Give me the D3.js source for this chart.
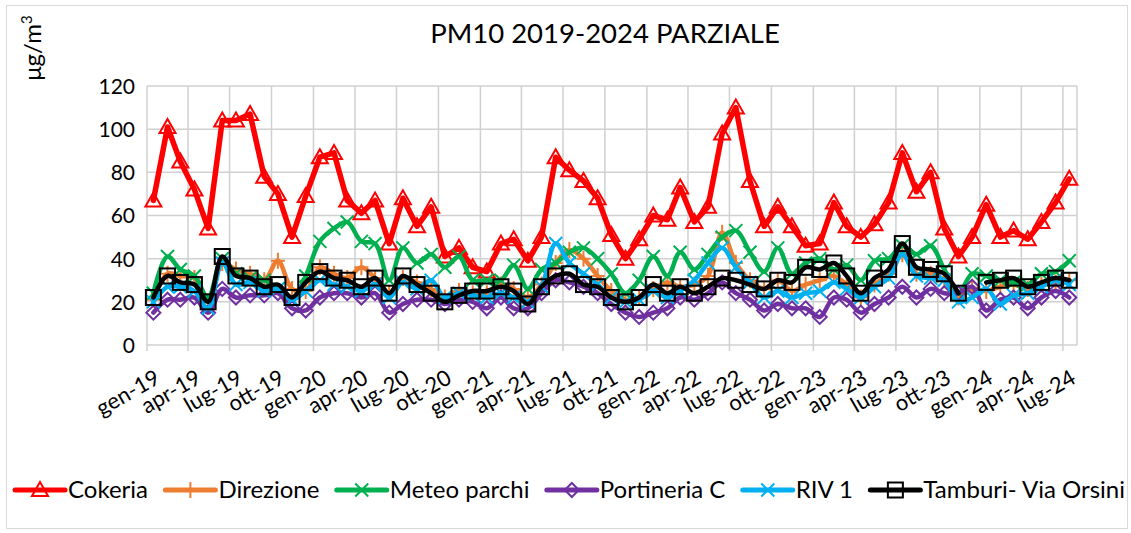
<!DOCTYPE html>
<html>
<head>
<meta charset="utf-8">
<script src="https://cdn.jsdelivr.net/npm/d3@7"></script>
<style>
  body { margin: 0; background: #fff; }
  text { font-family: Lato, "Open Sans", sans-serif; fill: #000; }
</style>
</head>
<body>
<div id="chart"></div>
<script>
// Data (monthly, gen-19 .. lug-24)
const firstYear = 2019;
const xTickLabels = ['gen-19','apr-19','lug-19','ott-19','gen-20','apr-20','lug-20','ott-20',
  'gen-21','apr-21','lug-21','ott-21','gen-22','apr-22','lug-22','ott-22',
  'gen-23','apr-23','lug-23','ott-23','gen-24','apr-24','lug-24'];
const yTicks = [0, 20, 40, 60, 80, 100, 120];

const cokeria = [67,101,85,72,54,104,104,107,78,70,50,69,87,89,67,61,67,47,68,55,64,41,45,36,34,
  47,49,39,50,87,81,76,68,51,40,49,60,58,73,57,64,98,110,76,55,64,55,46,47,66,55,50,56,66,89,71,80,
  54,41,50,65,50,53,49,57,66,77];
const direzione = [21,33,32,31,20,38,35,33,30,39,26,25,36,33,31,36,31,24,31,29,26,22,25,24,24,
  28,26,22,28,38,44,40,32,25,21,22,26,29,27,28,32,52,38,30,26,30,25,28,30,32,28,22,28,33,42,33,33,
  30,22,26,25,27,28,26,28,29,30];
const meteoParchi = [24,41,35,32,22,40,33,31,30,26,21,32,48,54,57,48,47,30,45,38,42,36,41,30,30,
  30,37,26,35,38,43,45,40,33,24,30,41,32,43,35,42,50,53,43,34,45,33,38,40,35,37,30,39,40,46,42,46,
  35,24,33,32,30,29,28,33,34,39];
const portineriaC = [15,21,21,22,15,26,22,23,23,24,17,16,22,24,24,22,24,15,19,21,21,19,21,20,17,
  22,17,17,24,30,29,27,24,19,15,13,15,17,22,21,24,29,24,21,16,19,17,17,13,22,21,15,19,22,27,22,26,
  24,24,27,16,21,22,17,22,25,22];
const riv1 = [20,27,27,25,17,38,28,29,25,26,21,25,30,28,27,25,28,22,29,26,30,22,24,23,22,
  24,22,20,27,47,38,33,28,22,20,21,25,22,25,30,38,45,36,29,22,25,22,24,25,29,26,22,27,31,42,32,31,
  30,20,22,26,19,23,24,27,30,28];
const tamburi = [22,32,29,28,20,41,32,31,27,28,22,29,34,31,30,27,31,24,32,28,24,20,23,25,25,
  27,25,19,27,32,33,28,27,22,20,22,28,24,27,24,27,31,30,28,26,30,29,36,35,38,32,24,31,35,47,36,35,
  33,24,null,29,30,31,27,29,31,30];

const seriesNames = ['Cokeria','Direzione','Meteo parchi','Portineria C','RIV 1','Tamburi- Via Orsini'];
const seriesColors = ['#ff0000','#ed7d31','#00b050','#7030a0','#00b0f0','#000000'];
const seriesMarkers = ['triangle','plus','x','diamond','x','square'];
const seriesValues = [cokeria, direzione, meteoParchi, portineriaC, riv1, tamburi];

const W = 1131, H = 533;
const margin = { left: 147, right: 1077, top: 86, bottom: 345 };

const svg = d3.select('#chart').append('svg')
  .attr('width', W).attr('height', H);

svg.append('rect').attr('x', 6.5).attr('y', 5.5).attr('width', 1121).attr('height', 523)
  .attr('fill', '#fff').attr('stroke', '#d9d9d9');

const x = d3.scaleTime()
  .domain([new Date(firstYear, 0, 1), new Date(2024, 7, 1)])
  .range([margin.left, margin.right]);
const y = d3.scaleLinear().domain([0, 120]).range([margin.bottom, margin.top]);

const tickDates = xTickLabels.map((d, i) => new Date(firstYear, i * 3, 1));

// grid
const grid = svg.append('g').attr('stroke', '#d0d0d0').attr('stroke-width', 1.5);
yTicks.forEach(v => grid.append('line')
  .attr('x1', margin.left).attr('x2', margin.right).attr('y1', y(v)).attr('y2', y(v)));
tickDates.forEach(d => grid.append('line')
  .attr('x1', x(d)).attr('x2', x(d)).attr('y1', margin.top).attr('y2', margin.bottom + 6));
grid.append('line').attr('x1', margin.right).attr('x2', margin.right)
  .attr('y1', margin.top).attr('y2', margin.bottom);

// y axis
svg.append('g')
  .attr('transform', `translate(${margin.left - 12},0)`)
  .call(d3.axisLeft(y).tickValues(yTicks).tickSize(0).tickPadding(0))
  .call(g => g.select('.domain').remove())
  .selectAll('text')
  .style('font-size', '21px').attr('dy', '0.35em');

// x axis labels
svg.append('g')
  .attr('transform', `translate(0,${margin.bottom})`)
  .call(d3.axisBottom(x).tickValues(tickDates).tickSize(0).tickFormat((d, i) => xTickLabels[i]))
  .call(g => g.select('.domain').remove())
  .selectAll('text')
  .style('font-size', '22px')
  .style('text-anchor', 'end')
  .attr('y', 0).attr('x', 0).attr('dy', 0)
  .attr('transform', 'translate(14,37) rotate(-30)');

// title and unit
svg.append('text').attr('x', 605).attr('y', 43).attr('text-anchor', 'middle')
  .style('font-size', '27.5px').text('PM10 2019-2024 PARZIALE');
svg.append('text').attr('transform', 'translate(41,48) rotate(-90)')
  .attr('text-anchor', 'middle').style('font-size', '24px')
  .html('μg/m<tspan dy="-9" style="font-size:15px">3</tspan>');

// markers
function drawMarker(g, type, color) {
  const s = 8;
  if (type === 'triangle') {
    g.append('path').attr('d', `M0,${-s} L${s},${s * 0.75} L${-s},${s * 0.75} Z`)
      .attr('fill', 'none').attr('stroke', color).attr('stroke-width', 2);
  } else if (type === 'square') {
    g.append('rect').attr('x', -7.5).attr('y', -7.5).attr('width', 15).attr('height', 15)
      .attr('fill', 'none').attr('stroke', color).attr('stroke-width', 2);
  } else if (type === 'diamond') {
    g.append('path').attr('d', 'M0,-7 L7,0 L0,7 L-7,0 Z')
      .attr('fill', 'none').attr('stroke', color).attr('stroke-width', 2);
  } else if (type === 'x') {
    g.append('path').attr('d', 'M-6.5,-6.5 L6.5,6.5 M-6.5,6.5 L6.5,-6.5')
      .attr('stroke', color).attr('stroke-width', 2);
  } else if (type === 'plus') {
    g.append('path').attr('d', 'M-7,0 L7,0 M0,-8 L0,8')
      .attr('stroke', color).attr('stroke-width', 2);
  }
}

const plot = svg.append('g');
seriesValues.forEach((vals, si) => {
  const pts = vals.map((v, i) => ({ date: new Date(firstYear, i, 15), v }));
  const line = d3.line()
    .defined(d => d.v !== null)
    .x(d => x(d.date)).y(d => y(d.v))
    .curve(si === 0 ? d3.curveLinear : d3.curveCatmullRom.alpha(0.5));
  plot.append('path').datum(pts).attr('d', line)
    .attr('fill', 'none').attr('stroke', seriesColors[si]).attr('stroke-width', si === 0 ? 5.5 : 4.5)
    .attr('stroke-linejoin', 'round').attr('stroke-linecap', 'round');
  pts.filter(d => d.v !== null).forEach(d => {
    const g = plot.append('g').attr('transform', `translate(${x(d.date)},${y(d.v)})`);
    drawMarker(g, seriesMarkers[si], seriesColors[si]);
  });
});

// legend
const legend = svg.append('g').attr('transform', 'translate(0,490)');
const items = [];
seriesNames.forEach((name, i) => {
  const g = legend.append('g');
  g.append('line').attr('x1', 0).attr('x2', 50).attr('y1', 0).attr('y2', 0)
    .attr('stroke', seriesColors[i]).attr('stroke-width', 5).attr('stroke-linecap', 'round');
  const m = g.append('g').attr('transform', 'translate(25,0)');
  drawMarker(m, seriesMarkers[i], seriesColors[i]);
  const t = g.append('text').attr('x', 53).attr('dy', '0.35em').style('font-size', '24px').text(name);
  items.push({ g, w: 53 + t.node().getComputedTextLength() });
});
const totalW = d3.sum(items, d => d.w);
const gap = (1125 - 15 - totalW) / (items.length - 1);
let cx = 15;
items.forEach(d => { d.g.attr('transform', `translate(${cx},0)`); cx += d.w + gap; });
</script>
</body>
</html>
